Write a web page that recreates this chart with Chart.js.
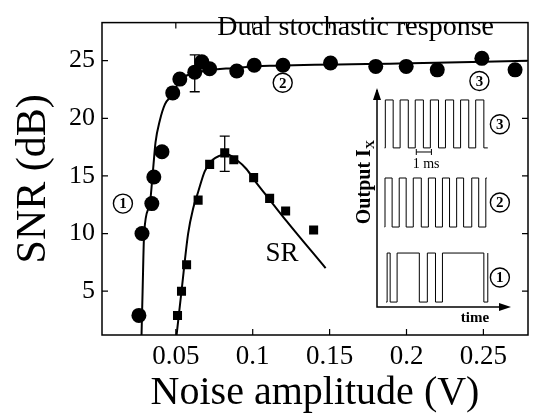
<!DOCTYPE html>
<html>
<head>
<meta charset="utf-8">
<script src="https://cdn.jsdelivr.net/npm/chart.js@4.4.1/dist/chart.umd.min.js"></script>
<style>
  body { margin: 0; background: #fff; }
  #wrap { position: relative; width: 536px; height: 419px; }
  #wrap canvas { position: absolute; }
</style>
</head>
<body>
<div id="wrap">
  <canvas id="main" width="536" height="419" style="left:0;top:0"></canvas>
  <canvas id="inset" width="196" height="250" style="left:340px;top:80px"></canvas>
</div>
<script>
const SERIF = "'Liberation Serif', 'Times New Roman', serif";

// dual stochastic response (circles)
const dualX = [0.026, 0.028, 0.0344, 0.0357, 0.041, 0.048, 0.0526, 0.0623, 0.0669, 0.072, 0.0896, 0.101, 0.1197, 0.1506, 0.180, 0.1998, 0.220, 0.249, 0.2706];
const dualY = [2.9, 10.0, 12.6, 14.9, 17.1, 22.2, 23.4, 24.0, 24.9, 24.3, 24.1, 24.6, 24.6, 24.8, 24.5, 24.5, 24.2, 25.2, 24.2];
const dualFitX = [0.0277, 0.0284, 0.0294, 0.0331, 0.0353, 0.0368, 0.0396, 0.0429, 0.048, 0.0526, 0.060, 0.070, 0.087, 0.111, 0.195, 0.2786];
const dualFitY = [1.2, 5.0, 10.0, 12.6, 15.7, 17.9, 19.8, 21.2, 22.1, 23.3, 23.85, 24.15, 24.35, 24.55, 24.75, 25.0];

// SR (squares)
const srX = [0.0511, 0.0537, 0.057, 0.0645, 0.072, 0.0818, 0.0877, 0.1006, 0.111, 0.1214, 0.1396];
const srY = [2.9, 5.0, 7.3, 12.9, 16.0, 17.0, 16.4, 14.85, 13.05, 11.95, 10.3];
const srFitX = [0.0505, 0.0537, 0.058, 0.0613, 0.0645, 0.0688, 0.074, 0.0786, 0.0829, 0.0894, 0.0959, 0.1024, 0.1089, 0.1219, 0.1474];
const srFitY = [1.2, 5.0, 10.0, 12.2, 13.6, 15.4, 16.4, 16.76, 16.9, 16.4, 15.6, 14.4, 13.3, 11.1, 7.0];

// error bars
const errX = [0.0623, 0.0818];
const errLo = [22.3, 15.4];
const errHi = [25.5, 18.45];

const xTicks = [0.05, 0.1, 0.15, 0.2, 0.25];
const yTicks = [5, 10, 15, 20, 25];

// inset traces: transition times (ms) and state after each (1 = high)
const trace1T = [0.6, 0.67, 0.87, 1.33, 2.8, 3.33, 3.87, 4.33, 7.07, 7.33];
const trace1S = [0, 1, 0, 1, 0, 1, 0, 1, 0, 1];
const trace2T = [0.5, 0.53, 1.0, 1.47, 1.93, 2.4, 2.93, 3.4, 3.87, 4.33, 4.8, 5.27, 5.73, 6.27, 6.73, 7.2, 7.27];
const trace2S = [0, 1, 0, 1, 0, 1, 0, 1, 0, 1, 0, 1, 0, 1, 0, 1, 1];
const trace3T = [0.5, 0.55, 1.07, 1.53, 2.07, 2.53, 3.07, 3.53, 4.07, 4.53, 5.07, 5.53, 6.07, 6.53, 7.07, 7.33];
const trace3S = [0, 1, 0, 1, 0, 1, 0, 1, 0, 1, 0, 1, 0, 1, 0, 0];
const traceLow = [0.23, 3.72, 7.40];
const traceHigh = [2.51, 6.0, 9.63];

const toXY = (xs, ys) => xs.map((x, i) => ({ x, y: ys[i] }));

function circled(ctx, px, py, txt) {
    ctx.beginPath();
    ctx.lineWidth = 1.4;
    ctx.arc(px, py, 9.5, 0, Math.PI * 2);
    ctx.stroke();
    ctx.font = 'bold 15px ' + SERIF;
    ctx.textAlign = 'center';
    ctx.textBaseline = 'middle';
    ctx.fillText(txt, px, py + 1);
}

const mainPlugin = {
    id: 'mainDeco',
    afterDraw(chart) {
        const { ctx, chartArea: a, scales: { x, y } } = chart;
        ctx.save();
        ctx.strokeStyle = '#000';
        ctx.fillStyle = '#000';
        ctx.lineWidth = 1.5;
        ctx.strokeRect(a.left, a.top, a.right - a.left, a.bottom - a.top);
        // inward ticks on all sides
        ctx.lineWidth = 1.2;
        ctx.beginPath();
        xTicks.forEach(v => {
            const px = x.getPixelForValue(v);
            ctx.moveTo(px, a.bottom); ctx.lineTo(px, a.bottom - 6);
            ctx.moveTo(px, a.top); ctx.lineTo(px, a.top + 6);
        });
        yTicks.forEach(v => {
            const py = y.getPixelForValue(v);
            ctx.moveTo(a.left, py); ctx.lineTo(a.left + 6, py);
            ctx.moveTo(a.right, py); ctx.lineTo(a.right - 6, py);
        });
        ctx.stroke();

        // error bars
        ctx.lineWidth = 1.3;
        ctx.beginPath();
        errX.forEach((v, i) => {
            const px = x.getPixelForValue(v);
            const p1 = y.getPixelForValue(errLo[i]);
            const p2 = y.getPixelForValue(errHi[i]);
            ctx.moveTo(px, p1); ctx.lineTo(px, p2);
            ctx.moveTo(px - 5, p1); ctx.lineTo(px + 5, p1);
            ctx.moveTo(px - 5, p2); ctx.lineTo(px + 5, p2);
        });
        ctx.stroke();

        // text labels
        ctx.textAlign = 'center';
        ctx.textBaseline = 'alphabetic';
        ctx.font = '28px ' + SERIF;
        ctx.fillText('Dual stochastic response', x.getPixelForValue(0.1669), 35);
        ctx.font = '27px ' + SERIF;
        ctx.fillText('SR', x.getPixelForValue(0.119), y.getPixelForValue(7.6));

        circled(ctx, x.getPixelForValue(0.0156), y.getPixelForValue(12.6), '1');
        circled(ctx, x.getPixelForValue(0.1195), y.getPixelForValue(23.08), '2');
        circled(ctx, x.getPixelForValue(0.2474), y.getPixelForValue(23.24), '3');
        ctx.restore();
    }
};

new Chart(document.getElementById('main'), {
    type: 'scatter',
    data: {
        datasets: [
            {
                data: toXY(dualX, dualY),
                pointStyle: 'circle',
                pointRadius: 7.5,
                backgroundColor: '#000',
                borderColor: '#000',
                borderWidth: 0,
            },
            {
                data: toXY(srX, srY),
                pointStyle: 'rect',
                pointRadius: 6.4,
                backgroundColor: '#000',
                borderColor: '#000',
                borderWidth: 0,
            },
            {
                data: toXY(dualFitX, dualFitY),
                showLine: true,
                pointRadius: 0,
                borderColor: '#000',
                borderWidth: 2,
                cubicInterpolationMode: 'monotone',
            },
            {
                data: toXY(srFitX, srFitY),
                showLine: true,
                pointRadius: 0,
                borderColor: '#000',
                borderWidth: 2,
                cubicInterpolationMode: 'monotone',
            },
        ],
    },
    options: {
        responsive: false,
        animation: false,
        layout: { padding: { left: 0, right: 8, top: 7, bottom: 0 } },
        plugins: { legend: { display: false }, tooltip: { enabled: false } },
        scales: {
            x: {
                type: 'linear',
                min: 0.002,
                max: 0.279,
                afterBuildTicks: s => { s.ticks = xTicks.map(v => ({ value: v })); },
                afterFit: s => { s.height = 84; },
                grid: { display: false, drawTicks: false },
                border: { display: false },
                ticks: {
                    padding: 6,
                    color: '#000',
                    font: { family: SERIF, size: 27 },
                    maxRotation: 0,
                    callback: v => String(v),
                },
                title: {
                    display: true,
                    text: 'Noise amplitude (V)',
                    color: '#000',
                    font: { family: SERIF, size: 40 },
                    padding: { top: 0, bottom: 2 },
                },
            },
            y: {
                type: 'linear',
                min: 1.2,
                max: 28.3,
                afterBuildTicks: s => { s.ticks = yTicks.map(v => ({ value: v })); },
                afterFit: s => { s.width = 102; },
                grid: { display: false, drawTicks: false },
                border: { display: false },
                ticks: {
                    padding: 7,
                    color: '#000',
                    font: { family: SERIF, size: 26 },
                },
                title: {
                    display: true,
                    text: 'SNR (dB)',
                    color: '#000',
                    font: { family: SERIF, size: 42 },
                    padding: { top: 9, bottom: 0 },
                },
            },
        },
    },
    plugins: [mainPlugin],
});

// ---- inset with output traces ----
function tracePoints(ts, ss, k) {
    return ts.map((t, i) => ({ x: t, y: ss[i] ? traceHigh[k] : traceLow[k] }));
}

const insetPlugin = {
    id: 'insetDeco',
    afterDraw(chart) {
        const { ctx, chartArea: a, scales: { x, y } } = chart;
        ctx.save();
        ctx.strokeStyle = '#000';
        ctx.fillStyle = '#000';
        ctx.lineWidth = 1.5;
        // axes with arrows
        ctx.beginPath();
        ctx.moveTo(a.left, a.top - 2);
        ctx.lineTo(a.left, a.bottom);
        ctx.lineTo(a.right - 8, a.bottom);
        ctx.stroke();
        ctx.beginPath();
        ctx.moveTo(a.left, a.top - 4);
        ctx.lineTo(a.left - 4, a.top + 8);
        ctx.lineTo(a.left + 4, a.top + 8);
        ctx.closePath();
        ctx.fill();
        ctx.beginPath();
        ctx.moveTo(a.right + 1, a.bottom);
        ctx.lineTo(a.right - 11, a.bottom - 4);
        ctx.lineTo(a.right - 11, a.bottom + 4);
        ctx.closePath();
        ctx.fill();

        // 1 ms scale bar
        const b1 = x.getPixelForValue(2.6), b2 = x.getPixelForValue(3.6), by = y.getPixelForValue(7.21);
        ctx.lineWidth = 1;
        ctx.beginPath();
        ctx.moveTo(b1, by); ctx.lineTo(b2, by);
        ctx.moveTo(b1, by - 3); ctx.lineTo(b1, by + 3);
        ctx.moveTo(b2, by - 3); ctx.lineTo(b2, by + 3);
        ctx.stroke();
        ctx.font = '14px ' + SERIF;
        ctx.textAlign = 'center';
        ctx.textBaseline = 'middle';
        ctx.fillText('1 ms', x.getPixelForValue(3.25), y.getPixelForValue(6.65));

        ctx.font = 'bold 15px ' + SERIF;
        ctx.fillText('time', 135, 238);

        circled(ctx, x.getPixelForValue(8.13), y.getPixelForValue(8.5), '3');
        circled(ctx, x.getPixelForValue(8.13), y.getPixelForValue(4.86), '2');
        circled(ctx, x.getPixelForValue(8.13), y.getPixelForValue(1.37), '1');

        // rotated axis label "Output I_X"
        ctx.save();
        ctx.translate(23, 102);
        ctx.rotate(-Math.PI / 2);
        ctx.font = 'bold 20px ' + SERIF;
        const w1 = ctx.measureText('Output I').width;
        ctx.font = 'bold 13px ' + SERIF;
        const w2 = ctx.measureText('X').width;
        const start = -(w1 + w2) / 2;
        ctx.textAlign = 'left';
        ctx.textBaseline = 'alphabetic';
        ctx.font = 'bold 20px ' + SERIF;
        ctx.fillText('Output I', start, 7);
        ctx.font = 'bold 13px ' + SERIF;
        ctx.fillText('X', start + w1, 11);
        ctx.restore();
        ctx.restore();
    }
};

const traceStyle = { stepped: true, pointRadius: 0, borderColor: '#000', borderWidth: 1, showLine: true };

new Chart(document.getElementById('inset'), {
    type: 'scatter',
    data: {
        datasets: [
            Object.assign({ data: tracePoints(trace1T, trace1S, 0) }, traceStyle),
            Object.assign({ data: tracePoints(trace2T, trace2S, 1) }, traceStyle),
            Object.assign({ data: tracePoints(trace3T, trace3S, 2) }, traceStyle),
        ],
    },
    options: {
        responsive: false,
        animation: false,
        layout: { padding: { left: 37, right: 26, top: 12, bottom: 23 } },
        plugins: { legend: { display: false }, tooltip: { enabled: false } },
        scales: {
            x: { type: 'linear', min: 0, max: 8.8, display: false },
            y: { type: 'linear', min: 0, max: 10, display: false },
        },
    },
    plugins: [insetPlugin],
});
</script>
</body>
</html>
